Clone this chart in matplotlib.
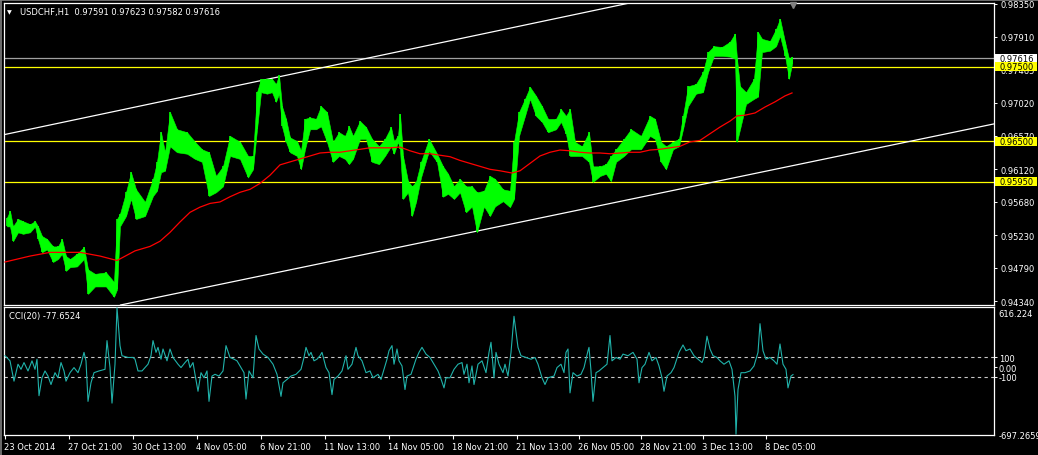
import matplotlib
matplotlib.use("Agg")
import matplotlib.pyplot as plt
import matplotlib.transforms as mtransforms
from matplotlib.patches import Rectangle
from matplotlib.lines import Line2D

W, H = 1038, 456
plt.rcParams['font.family'] = ['DejaVu Sans']

# ---------------- data ----------------
symbol_title = "USDCHF,H1  0.97591 0.97623 0.97582 0.97616"
cci_title = "CCI(20) -77.6524"

# hourly price bars, sampled: (bar index, high, low)
price_bars = [
    (2, 0.9547, 0.9535), (5, 0.9556, 0.9535), (8, 0.9535, 0.9515), (13, 0.9545, 0.9527),
    (18, 0.9542, 0.9525), (25, 0.9538, 0.9527), (30, 0.9542, 0.9535), (33, 0.9535, 0.9518),
    (37, 0.9522, 0.9500), (42, 0.9518, 0.9504), (48, 0.9508, 0.9487), (53, 0.9508, 0.9491),
    (57, 0.9518, 0.9498), (61, 0.9495, 0.9475), (65, 0.9491, 0.9480), (72, 0.9498, 0.9481),
    (79, 0.9507, 0.9491), (83, 0.9477, 0.9444), (90, 0.9471, 0.9454), (101, 0.9473, 0.9454),
    (109, 0.9460, 0.9440), (112, 0.9545, 0.9450), (115, 0.9552, 0.9535), (121, 0.9581, 0.9549),
    (126, 0.9608, 0.9572), (131, 0.9585, 0.9545), (140, 0.9568, 0.9549), (148, 0.9599, 0.9576),
    (152, 0.9622, 0.9583), (156, 0.9662, 0.9608), (160, 0.9635, 0.9610), (165, 0.9689, 0.9643),
    (172, 0.9666, 0.9635), (182, 0.9662, 0.9633), (190, 0.9649, 0.9626), (197, 0.9639, 0.9622),
    (204, 0.9635, 0.9576), (211, 0.9603, 0.9581), (218, 0.9616, 0.9589), (225, 0.9657, 0.9630),
    (235, 0.9649, 0.9626), (243, 0.9630, 0.9601), (248, 0.9630, 0.9612), (252, 0.9716, 0.9666),
    (256, 0.9734, 0.9716), (262, 0.9734, 0.9714), (267, 0.9734, 0.9716), (271, 0.9727, 0.9703),
    (274, 0.9739, 0.9714), (277, 0.9697, 0.9670), (281, 0.9680, 0.9649), (285, 0.9655, 0.9635),
    (292, 0.9650, 0.9630), (296, 0.9637, 0.9612), (300, 0.9680, 0.9639), (305, 0.9682, 0.9666),
    (311, 0.9680, 0.9666), (316, 0.9697, 0.9670), (322, 0.9689, 0.9649), (328, 0.9649, 0.9622),
    (334, 0.9662, 0.9630), (340, 0.9657, 0.9626), (344, 0.9670, 0.9619), (348, 0.9657, 0.9626),
    (355, 0.9677, 0.9653), (361, 0.9669, 0.9653), (367, 0.9653, 0.9622), (374, 0.9643, 0.9619),
    (380, 0.9653, 0.9630), (386, 0.9669, 0.9643), (389, 0.9650, 0.9633), (393, 0.9657, 0.9649),
    (395, 0.9687, 0.9639), (398, 0.9630, 0.9572), (403, 0.9596, 0.9581), (407, 0.9589, 0.9549),
    (411, 0.9595, 0.9568), (416, 0.9622, 0.9601), (424, 0.9653, 0.9637), (432, 0.9633, 0.9622),
    (438, 0.9616, 0.9575), (443, 0.9606, 0.9579), (449, 0.9589, 0.9572), (455, 0.9599, 0.9581),
    (461, 0.9589, 0.9554), (467, 0.9589, 0.9562), (472, 0.9581, 0.9527), (479, 0.9583, 0.9562),
    (485, 0.9603, 0.9549), (490, 0.9599, 0.9562), (498, 0.9585, 0.9569), (505, 0.9583, 0.9561),
    (509, 0.9649, 0.9572), (514, 0.9689, 0.9657), (520, 0.9707, 0.9684), (525, 0.9723, 0.9707),
    (531, 0.9711, 0.9684), (537, 0.9697, 0.9676), (543, 0.9680, 0.9662), (551, 0.9680, 0.9666),
    (556, 0.9693, 0.9676), (561, 0.9684, 0.9660), (565, 0.9693, 0.9630), (570, 0.9649, 0.9630),
    (577, 0.9643, 0.9630), (584, 0.9662, 0.9622), (588, 0.9616, 0.9595), (595, 0.9616, 0.9603),
    (601, 0.9619, 0.9606), (606, 0.9630, 0.9596), (611, 0.9639, 0.9622), (619, 0.9653, 0.9630),
    (626, 0.9666, 0.9639), (636, 0.9657, 0.9639), (645, 0.9684, 0.9657), (650, 0.9680, 0.9653),
    (656, 0.9649, 0.9622), (661, 0.9643, 0.9612), (668, 0.9649, 0.9639), (674, 0.9653, 0.9643),
    (678, 0.9684, 0.9666), (683, 0.9724, 0.9697), (691, 0.9727, 0.9714), (698, 0.9743, 0.9716),
    (703, 0.9770, 0.9743), (709, 0.9778, 0.9765), (717, 0.9777, 0.9765), (725, 0.9784, 0.9764),
    (730, 0.9795, 0.9761), (732, 0.9761, 0.9649), (735, 0.9724, 0.9666), (741, 0.9716, 0.9700),
    (749, 0.9734, 0.9707), (753, 0.9797, 0.9710), (757, 0.9788, 0.9770), (765, 0.9785, 0.9772),
    (771, 0.9801, 0.9778), (775, 0.9815, 0.9792), (780, 0.9784, 0.9765), (784, 0.9761, 0.9734),
    (787, 0.9764, 0.9754),
]

ma_x = [0, 25, 45, 75, 95, 112, 130, 145, 155, 165, 175, 185, 195, 205, 215, 225, 235, 245, 255, 265,
        275, 285, 295, 305, 315, 325, 335, 345, 355, 365, 375, 385, 395, 405, 415, 425, 435, 445, 455, 465,
        475, 485, 495, 507, 515, 525, 535, 545, 555, 565, 575, 585, 595, 605, 615, 625, 635, 645, 655, 665,
        675, 685, 695, 705, 715, 725, 732, 740, 750, 760, 770, 780, 787]
ma_val = [0.9487, 0.9495, 0.9500, 0.9500, 0.9495, 0.9489, 0.9502, 0.9508, 0.9515, 0.9527,
          0.9541, 0.9554, 0.9561, 0.9566, 0.9568, 0.9575, 0.9581, 0.9585, 0.9593, 0.9604,
          0.9618, 0.9622, 0.9626, 0.9630, 0.9634, 0.9635, 0.9635, 0.9637, 0.9639, 0.9641,
          0.9641, 0.9641, 0.9642, 0.9637, 0.9633, 0.9633, 0.9631, 0.9629, 0.9624, 0.9620,
          0.9616, 0.9612, 0.9610, 0.9607, 0.9610, 0.9620, 0.9630, 0.9635, 0.9638, 0.9637,
          0.9635, 0.9634, 0.9634, 0.9633, 0.9634, 0.9635, 0.9635, 0.9638, 0.9639, 0.9641,
          0.9643, 0.9649, 0.9651, 0.9660, 0.9669, 0.9677, 0.9684, 0.9685, 0.9688, 0.9696,
          0.9703, 0.9711, 0.9715]

# CCI(20) samples: (bar index, value)
cci_points = [
    (0, 118), (5, 65), (9, -146), (13, 30), (16, -23), (19, 47), (23, -40), (27, 65), (30, -23),
    (32, 82), (34, -297), (37, -111), (40, -40), (43, -93), (46, -181), (50, -58), (53, -111),
    (56, 47), (59, -40), (61, -146), (65, -58), (69, -5), (73, -58), (76, 30), (79, 153), (81, 65),
    (83, -356), (86, -163), (89, -58), (94, -40), (100, -23), (102, 275), (105, -5), (107, -374),
    (110, 30), (112, 616.224), (115, 223), (117, 118), (123, 100), (128, 100), (130, 82), (133, -40),
    (137, -40), (140, -5), (143, 30), (146, 118), (148, 275), (151, 153), (153, 205), (156, 82),
    (158, 188), (162, 65), (165, 188), (168, 100), (173, 30), (176, -5), (180, 47), (183, 82),
    (185, -5), (188, 47), (190, -75), (193, -251), (196, -58), (199, -111), (202, -40), (204, -356),
    (207, -93), (210, -75), (214, -93), (218, -40), (221, 223), (225, 100), (229, 82), (232, 65),
    (236, -5), (239, -58), (241, -332), (244, -40), (248, -111), (251, 328), (254, 188), (258, 135),
    (263, 100), (268, 30), (272, -75), (276, -304), (278, -163), (282, -128), (286, -93), (291, -75),
    (296, -23), (299, 100), (301, 205), (304, 118), (306, 153), (309, 65), (312, 82), (315, 118),
    (317, 153), (321, -5), (324, -58), (327, -286), (329, -128), (333, -93), (337, -40), (341, 118),
    (343, -23), (347, 30), (351, 205), (353, 118), (357, 65), (361, -58), (365, -40), (368, -111),
    (373, -75), (376, -128), (379, -23), (382, 82), (384, 170), (387, 223), (389, 30), (392, 188),
    (394, 65), (397, 12), (400, -233), (402, -93), (406, -75), (411, 82), (414, 153), (417, 205),
    (421, 135), (425, 100), (429, 30), (433, -40), (435, -93), (439, -216), (441, -111), (445, -111),
    (449, -23), (453, 30), (457, 47), (459, -75), (462, 30), (464, -163), (467, 12), (469, -181),
    (473, 30), (477, 65), (481, -58), (484, 153), (486, 258), (489, -111), (491, 153), (494, 30),
    (498, -58), (500, 30), (503, -93), (506, 153), (509, 528), (513, 205), (516, 118), (521, 100),
    (526, 82), (530, 100), (533, 30), (537, -111), (540, -181), (543, -111), (549, -93), (552, -5),
    (556, 30), (559, -58), (561, 153), (563, 188), (565, -268), (568, -58), (572, -93), (576, -75),
    (579, -5), (583, 170), (584, 205), (586, -40), (588, -356), (591, -58), (594, -40), (598, -5),
    (602, 30), (605, 328), (607, 65), (611, 100), (615, 82), (618, 135), (623, 118), (628, 153),
    (632, 82), (634, -163), (637, -5), (640, 30), (644, 153), (647, 65), (651, 100), (654, 12),
    (657, -111), (659, -251), (662, -93), (666, -58), (669, -5), (674, 153), (678, 230), (681, 170),
    (685, 188), (689, 118), (693, 82), (697, 47), (699, 100), (702, 321), (705, 188), (708, 118),
    (712, 100), (715, 65), (719, 30), (724, 65), (727, -23), (730, -304), (731, -697.2659),
    (733, -233), (736, -58), (740, -58), (745, -40), (749, 12), (753, 153), (755, 451), (758, 170),
    (761, 82), (765, 100), (769, 65), (772, 30), (775, 240), (778, 30), (781, -23), (783, -216),
    (786, -93), (788, -77.6524),
]

bid_price = 0.97616
level_prices = [0.97500, 0.96500, 0.95950]
upper_trend = [(0, 0.9659), (620, 0.9835)]
lower_trend = [(255, 0.9468), (795, 0.9619)]

price_ticks = [0.98350, 0.97910, 0.97465, 0.97020, 0.96570, 0.96120, 0.95680, 0.95230, 0.94790, 0.94340]
cci_max, cci_min = 616.224, -697.2659
date_ticks = [0, 64, 128, 192, 256, 320, 384, 448, 512, 574, 636, 698, 761]
date_labels = ["23 Oct 2014", "27 Oct 21:00", "30 Oct 13:00", "4 Nov 05:00", "6 Nov 21:00",
               "11 Nov 13:00", "14 Nov 05:00", "18 Nov 21:00", "21 Nov 13:00", "26 Nov 05:00",
               "28 Nov 21:00", "3 Dec 13:00", "8 Dec 05:00"]

# ---------------- figure ----------------
BG = "black"
FG = "white"
GREEN = "#00FF00"
YELLOW = "#FFFF00"
FS = 6

fig = plt.figure(figsize=(W / 100, H / 100), dpi=100, facecolor=BG)


def fx(px):
    return px / W


def fy(py):
    return 1 - py / H


ax = fig.add_axes([fx(4), fy(306), fx(994) - fx(4), fy(4) - fy(306)], facecolor=BG)
ax2 = fig.add_axes([fx(4), fy(436), fx(994) - fx(4), fy(308) - fy(436)], facecolor=BG, sharex=ax)

for a in (ax, ax2):
    for s in a.spines.values():
        s.set_color(FG)
        s.set_linewidth(0.9)
    a.yaxis.tick_right()
    a.tick_params(axis='y', colors=FG, labelcolor=FG, labelsize=FS, length=2.5, width=0.7,
                  direction='out', pad=2)

ax.set_xlim(-1, 989)
ax.set_ylim(0.94290, 0.98363)
ax.tick_params(axis='x', bottom=False, labelbottom=False)
ax.set_yticks(price_ticks)
ax.set_yticklabels([f"{t:.5f}" for t in price_ticks])

# levels
for lv in level_prices:
    ax.axhline(lv, color=YELLOW, lw=0.9, zorder=2)
ax.axhline(bid_price, color="#A0A0A0", lw=0.9, zorder=2)

# trend channel
ax.axline(upper_trend[0], upper_trend[1], color=FG, lw=0.9, zorder=2)
ax.axline(lower_trend[0], lower_trend[1], color=FG, lw=0.9, zorder=2)

# price bars
bx = [b[0] for b in price_bars]
bh = [b[1] for b in price_bars]
bl = [b[2] for b in price_bars]
ax.fill_between(bx, bl, bh, color=GREEN, lw=0.4, edgecolor=GREEN, zorder=3)
ax.vlines(bx, bl, bh, color=GREEN, lw=1.2, zorder=3)

# moving average
ax.plot(ma_x, ma_val, color="#FF0000", lw=0.9, zorder=4)

# right-hand price boxes
bt = mtransforms.blended_transform_factory(fig.transFigure, ax.transData)
box_h = 9 / 7414
for price, fc in [(bid_price, "white")] + [(lv, YELLOW) for lv in level_prices]:
    ax.add_patch(Rectangle((fx(995), price - box_h / 2), fx(1037) - fx(995), box_h,
                           transform=bt, facecolor=fc, edgecolor='none', clip_on=False, zorder=10))
    ax.text(fx(999), price, f"{price:.5f}", transform=bt, ha='left', va='center',
            fontsize=FS, color="black", clip_on=False, zorder=11)

# chart-shift marker
mt = mtransforms.blended_transform_factory(ax.transData, fig.transFigure)
ax.add_line(Line2D([bx[-1] + 1], [fy(6)], transform=mt, marker='v', markersize=5,
                   color="#808080", clip_on=False, zorder=10))

# titles
fig.text(fx(7), fy(13), "\u25BC", fontsize=4.5, color=FG, ha='left', va='center')
fig.text(fx(20), fy(13), symbol_title, fontsize=FS, color=FG, ha='left', va='center')
fig.text(fx(9), fy(316), cci_title, fontsize=FS, color=FG, ha='left', va='center')

# CCI panel
cx = [p[0] for p in cci_points]
cv = [p[1] for p in cci_points]
ax2.set_ylim(cci_min - 8, cci_max + 8)
ax2.axhline(100, color="#C8C8C8", lw=0.8, ls=(0, (3, 3)), zorder=2)
ax2.axhline(-100, color="#C8C8C8", lw=0.8, ls=(0, (3, 3)), zorder=2)
ax2.plot(cx, cv, color="#20B2AA", lw=0.8, zorder=3)
ax2.set_yticks([100, 0, -100, cci_min])
ax2.set_yticklabels(["100", "0.00", "-100", f"{cci_min:.4f}"])
ax2.tick_params(axis='y', pad=1)
ax2.yaxis.get_major_ticks()[-1].tick2line.set_visible(False)
ax2.text(fx(998), fy(315), f"{cci_max:.3f}", transform=fig.transFigure, fontsize=FS,
         color=FG, ha='left', va='center', clip_on=False)

ax2.set_xticks(date_ticks)
ax2.set_xticklabels(date_labels)
ax2.tick_params(axis='x', colors=FG, labelcolor=FG, labelsize=FS, length=3, width=0.8,
                direction='out', pad=2)
offset = mtransforms.ScaledTranslation(-1 / 100, 0, fig.dpi_scale_trans)
for lab in ax2.get_xticklabels():
    lab.set_horizontalalignment('left')
    lab.set_transform(lab.get_transform() + offset)

# window frame (grey edge lines at top/left)
fig.add_artist(Line2D([0, 1], [fy(0.5), fy(0.5)], transform=fig.transFigure, color="#808080", lw=1.2))
fig.add_artist(Line2D([fx(0.5), fx(0.5)], [0, 1], transform=fig.transFigure, color="#808080", lw=1.2))

fig.savefig("out.png", dpi=100, facecolor=BG)
